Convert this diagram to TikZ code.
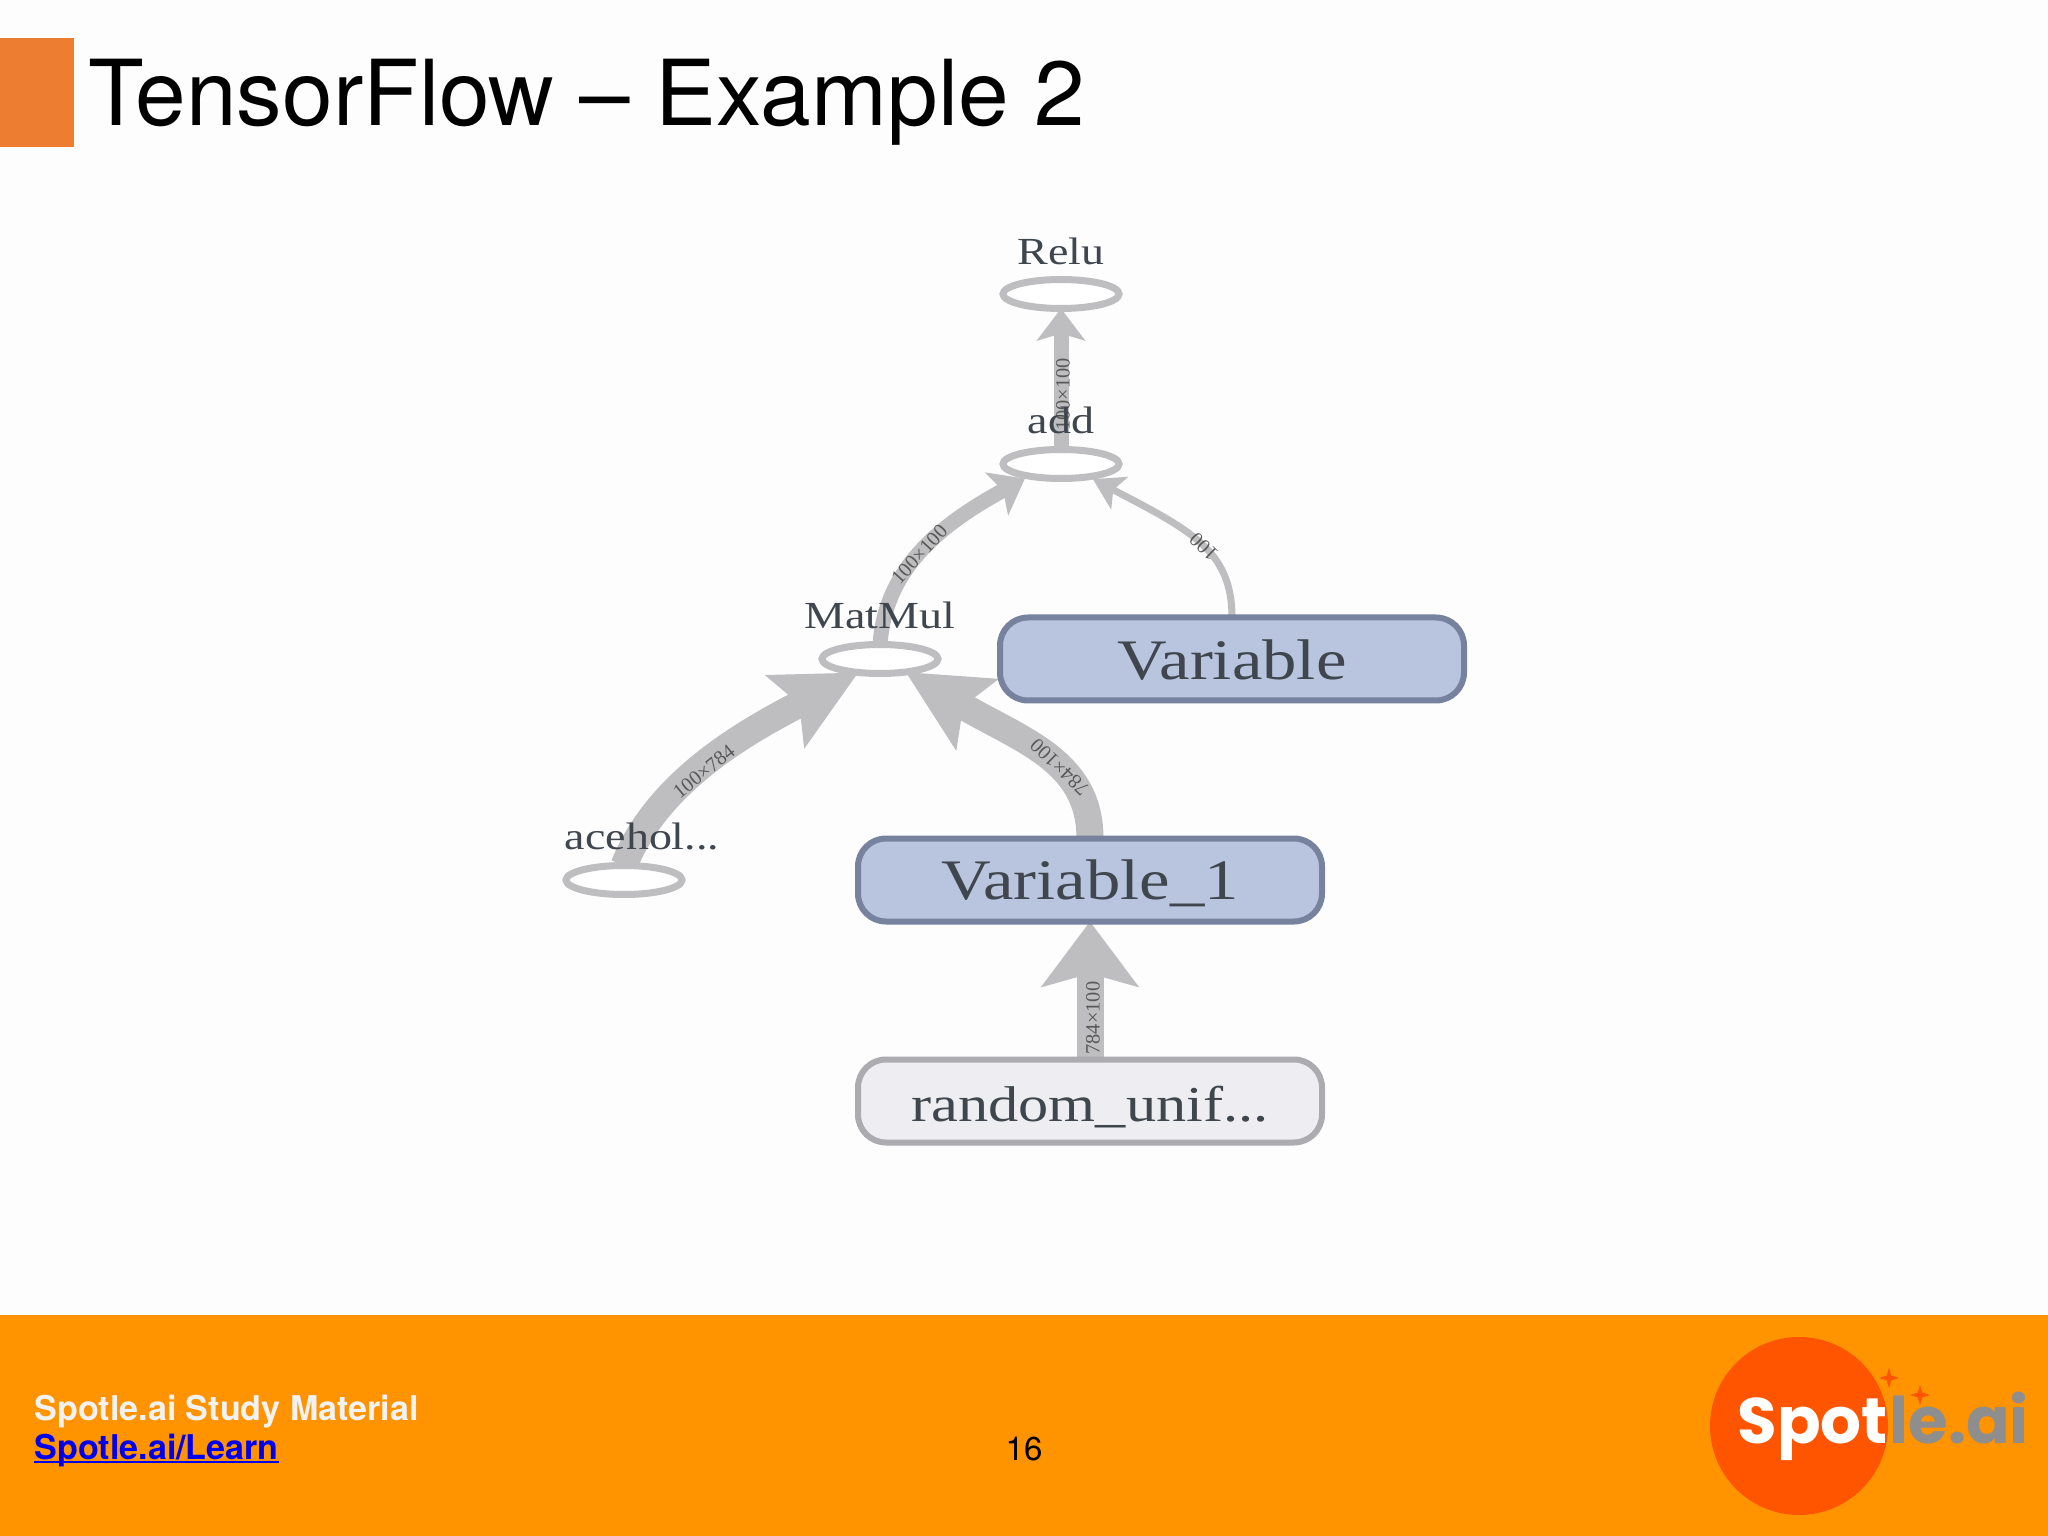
\documentclass[tikz,border=0pt]{standalone}
\usepackage{fontspec}
\setmainfont{TeX Gyre Heros}
\newfontfamily\graphfont[FakeStretch=1.2]{Liberation Serif}
\newfontfamily\edgefont{Liberation Serif}
\newfontfamily\logofont{Poppins}
\usetikzlibrary{arrows.meta,shapes.geometric,backgrounds}
\definecolor{slidebg}{HTML}{FDFDFD}
\definecolor{barorange}{HTML}{FF9300}
\definecolor{tabcolor}{HTML}{ED7D31}
\definecolor{logored}{HTML}{FF5500}
\definecolor{logogray}{HTML}{8E8E8E}
\definecolor{edgegray}{HTML}{BEBEC0}
\definecolor{inktext}{HTML}{40464E}
\definecolor{varfill}{HTML}{B9C5DF}
\definecolor{varline}{HTML}{76829E}
\definecolor{rndfill}{HTML}{EEEEF2}
\definecolor{rndline}{HTML}{ABABB0}
\definecolor{linkblue}{HTML}{0000EE}
\tikzstyle{opnode}=[draw=edgegray, fill=white, ellipse, line width=.07cm,
    minimum width=1.16cm, minimum height=.29cm, inner sep=0, outer sep=0]
\tikzstyle{oplabel}=[inner sep=0, text=inktext,
    font=\graphfont\fontsize{10.9}{12}\selectfont]
\tikzstyle{varbox}=[draw=varline, fill=varfill, line width=.06cm, text=inktext,
    minimum width=4.64cm, minimum height=.83cm, rounded corners=.28cm,
    outer sep=0, text height=.4cm, text depth=0pt,
    font=\graphfont\fontsize{16.3}{18}\selectfont]
\tikzstyle{rndbox}=[varbox, draw=rndline, fill=rndfill,
    font=\graphfont\fontsize{14.3}{18}\selectfont]
\tikzstyle{edgelabel}=[sloped, allow upside down, inner sep=0, text=black!65,
    font=\edgefont\fontsize{5.8}{6}\selectfont]
\tikzstyle{bigflow}=[draw=edgegray, line width=.27cm,
    -{Stealth[length=.65cm, width=.96cm, inset=.13cm]}]
\tikzstyle{slantflow}=[draw=edgegray, line width=.27cm,
    -{Stealth[length=.82cm, width=.8cm, inset=.15cm]}]
\tikzstyle{midflow}=[draw=edgegray, line width=.15cm,
    -{Stealth[length=.32cm, width=.48cm, inset=.07cm]}]
\tikzstyle{thinflow}=[draw=edgegray, line width=.07cm,
    -{Stealth[length=.3cm, width=.36cm, inset=.07cm]}]

\begin{document}
\begin{tikzpicture}
    \useasboundingbox (0,0) rectangle (20.48,-15.36);
    \node (add) at (10.61,-4.64) [opnode] {};
    \path (add)+(0,1.7) node (relu) [opnode] {};
    \path (add)+(-1.81,-1.95) node (matmul) [opnode] {};
    \path (add)+(-4.37,-4.16) node (acehol) [opnode] {};
    \path (add)+(1.71,-1.95) node (var) [varbox] {Variable};
    \path (add)+(.29,-4.16) node (varone) [varbox] {Variable\_1};
    \path (varone)+(0,-2.21) node (rnd) [rndbox] {random\_unif...};
    \path (relu)+(0,.43) node (relulbl) [oplabel] {Relu};
    \path (add)+(0,.44) node (addlbl) [oplabel] {add};
    \path (matmul)+(0,.44) node (matmullbl) [oplabel] {MatMul};
    \path (acehol)+(.18,.44) node (acehollbl) [oplabel] {acehol...};
    \begin{pgfonlayer}{background}
    \fill[slidebg] (0,0) rectangle (20.48,-13.15);
    \path [bigflow] (rnd.north) -- node (l1) [edgelabel, pos=.3, yshift=-.03cm] {784×100} (varone.south);
    \path [slantflow] (varone.north) .. controls (10.9,-7.6) and (10.2,-7.4) .. node (l2) [edgelabel, pos=.39] {784×100} (matmul.333);
    \path [slantflow] (acehol.north) .. controls (6.6,-7.75) and (7.6,-7.25) .. node (l3) [edgelabel, pos=.43, yshift=-.05cm] {100×784} (matmul.212);
    \path [midflow, shorten >=.05cm] (matmul.north) .. controls (8.85,-5.75) and (9.3,-5.3) .. node (l4) [edgelabel, pos=.5] {100×100} (add.201);
    \path [thinflow, shorten >=.05cm] (var.north) .. controls (12.32,-5.5) and (11.9,-5.3) .. node (l5) [edgelabel, pos=.46] {100} (add.335);
    \path [midflow] (add.north) -- node (l6) [edgelabel, pos=.39, yshift=-.02cm] {100×100} (relu.south);
    \end{pgfonlayer}
    % slide frame
    \fill[tabcolor] (0,-.38) rectangle (.74,-1.47);
    \node (title) at (.88,-1.26) [anchor=base west, inner sep=0, font=\fontsize{25.9}{30}\selectfont] {TensorFlow -- Example 2};
    \fill[barorange] (0,-13.15) rectangle (20.48,-15.36);
    \node (study) at (.34,-14.2) [anchor=base west, inner sep=0, text=white!95!black, font=\bfseries\fontsize{9.7}{12}\selectfont] {Spotle.ai Study Material};
    \node (learn) at (.34,-14.59) [anchor=base west, inner sep=0, text=linkblue, font=\bfseries\fontsize{9.7}{12}\selectfont] {Spotle.ai/Learn};
    \draw[linkblue, line width=.02cm] ([yshift=-.03cm]learn.base west) -- ([yshift=-.03cm]learn.base east);
    \node (page) at (10.24,-14.6) [anchor=base, inner sep=0, font=\fontsize{9.4}{12}\selectfont] {16};
    \node (logo) at (17.99,-14.26) [circle, fill=logored, minimum size=1.78cm, inner sep=0] {};
    \node (spot) at (17.37,-14.43) [anchor=base west, inner sep=0, text=white, font=\logofont\bfseries\fontsize{18.3}{22}\selectfont] {Spot};
    \node (leai) at (spot.base east) [anchor=base west, inner sep=0, text=logogray, font=\logofont\bfseries\fontsize{18.3}{22}\selectfont] {le.ai};
    \foreach \n/\x/\y in {spa/18.89/-13.78,spb/19.2/-13.95}
      \node (\n) at (\x,\y) [star, star points=4, star point ratio=3, fill=logored, minimum size=.2cm, inner sep=0] {};
\end{tikzpicture}
\end{document}
